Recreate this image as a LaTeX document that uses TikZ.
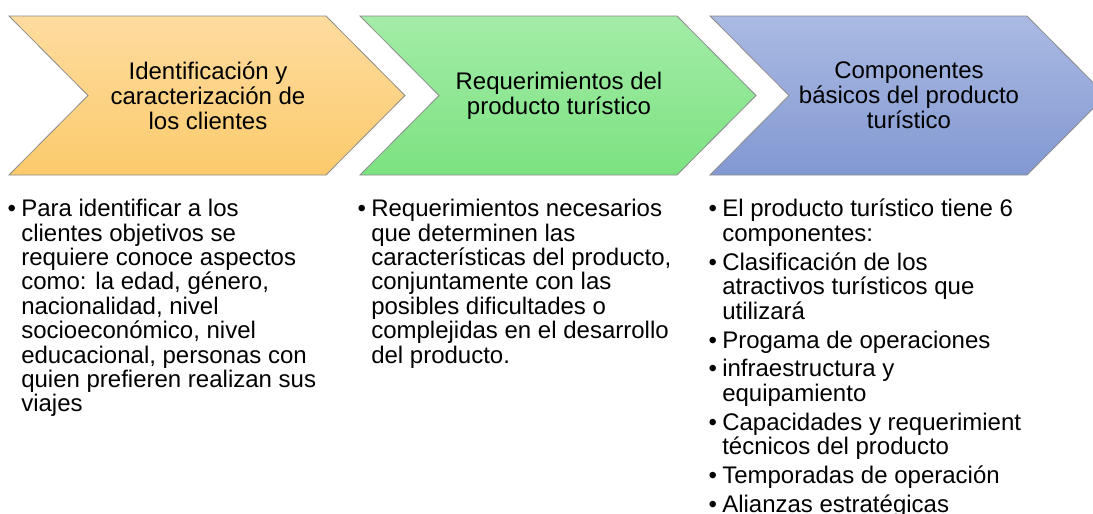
\documentclass[tikz,border=0pt]{standalone}
\usepackage{fontspec}
\setmainfont{Liberation Sans}
\usetikzlibrary{positioning}
\definecolor{orgtop}{HTML}{FEDC9F}
\definecolor{orgbot}{HTML}{FBCA6C}
\definecolor{grntop}{HTML}{A3ECA8}
\definecolor{grnbot}{HTML}{7CE280}
\definecolor{blutop}{HTML}{AABAE2}
\definecolor{blubot}{HTML}{8298D2}
\definecolor{chevline}{HTML}{8C8C8C}
\tikzset{
  chevron/.style={draw=chevline, line width=0.6pt},
  chevtext/.style={align=center, inner sep=0pt, font=\fontsize{18}{18.75}\selectfont},
  itemtext/.style={align=left, anchor=north west, inner sep=0pt, font=\fontsize{18}{18.3}\selectfont}
}
\newcommand{\itm}{\llap{\textbullet\hspace{4pt}}}
\newcommand{\itemgap}{3.4pt}

\begin{document}
\begin{tikzpicture}[x=0.75pt, y=-0.75pt]
    \clip (0,0) rectangle (1093,514);
    % chevrons
    \foreach \xo/\ctop/\cbot in {9/orgtop/orgbot, 360/grntop/grnbot, 710/blutop/blubot}
      \draw[chevron, top color=\ctop, bottom color=\cbot]
        (\xo,16) -- ++(317,0) -- ++(79,79.5) -- ++(-79,79.5) -- ++(-317,0) -- ++(79,-79.5) -- cycle;
    \node[chevtext] (h1) at (208,95.5) {Identificación y\\caracterización de\\los clientes};
    \node[chevtext] (h2) at (559,95.5) {Requerimientos del\\producto turístico};
    \node[chevtext] (h3) at (909,95.5) {Componentes\\básicos del producto\\turístico};
    % bullet lists
    \node[itemtext] (b1) at (21,199) {\itm Para identificar a los\\
      clientes objetivos se\\
      requiere conoce aspectos\\
      como: la edad, género,\\
      nacionalidad, nivel\\
      socioeconómico, nivel\\
      educacional, personas con\\
      quien prefieren realizan sus\\
      viajes};
    \node[itemtext] (b2) at (371,199) {\itm Requerimientos necesarios\\
      que determinen las\\
      características del producto,\\
      conjuntamente con las\\
      posibles dificultades o\\
      complejidas en el desarrollo\\
      del producto.};
    \node[itemtext] (b3) at (722,199) {\itm El producto turístico tiene 6\\
      componentes:\\[\itemgap]
      \itm Clasificación de los\\
      atractivos turísticos que\\
      utilizará\\[\itemgap]
      \itm Progama de operaciones\\[\itemgap]
      \itm infraestructura y\\
      equipamiento\\[\itemgap]
      \itm Capacidades y requerimient\\
      técnicos del producto\\[\itemgap]
      \itm Temporadas de operación\\[\itemgap]
      \itm Alianzas estratégicas};
\end{tikzpicture}
\end{document}
